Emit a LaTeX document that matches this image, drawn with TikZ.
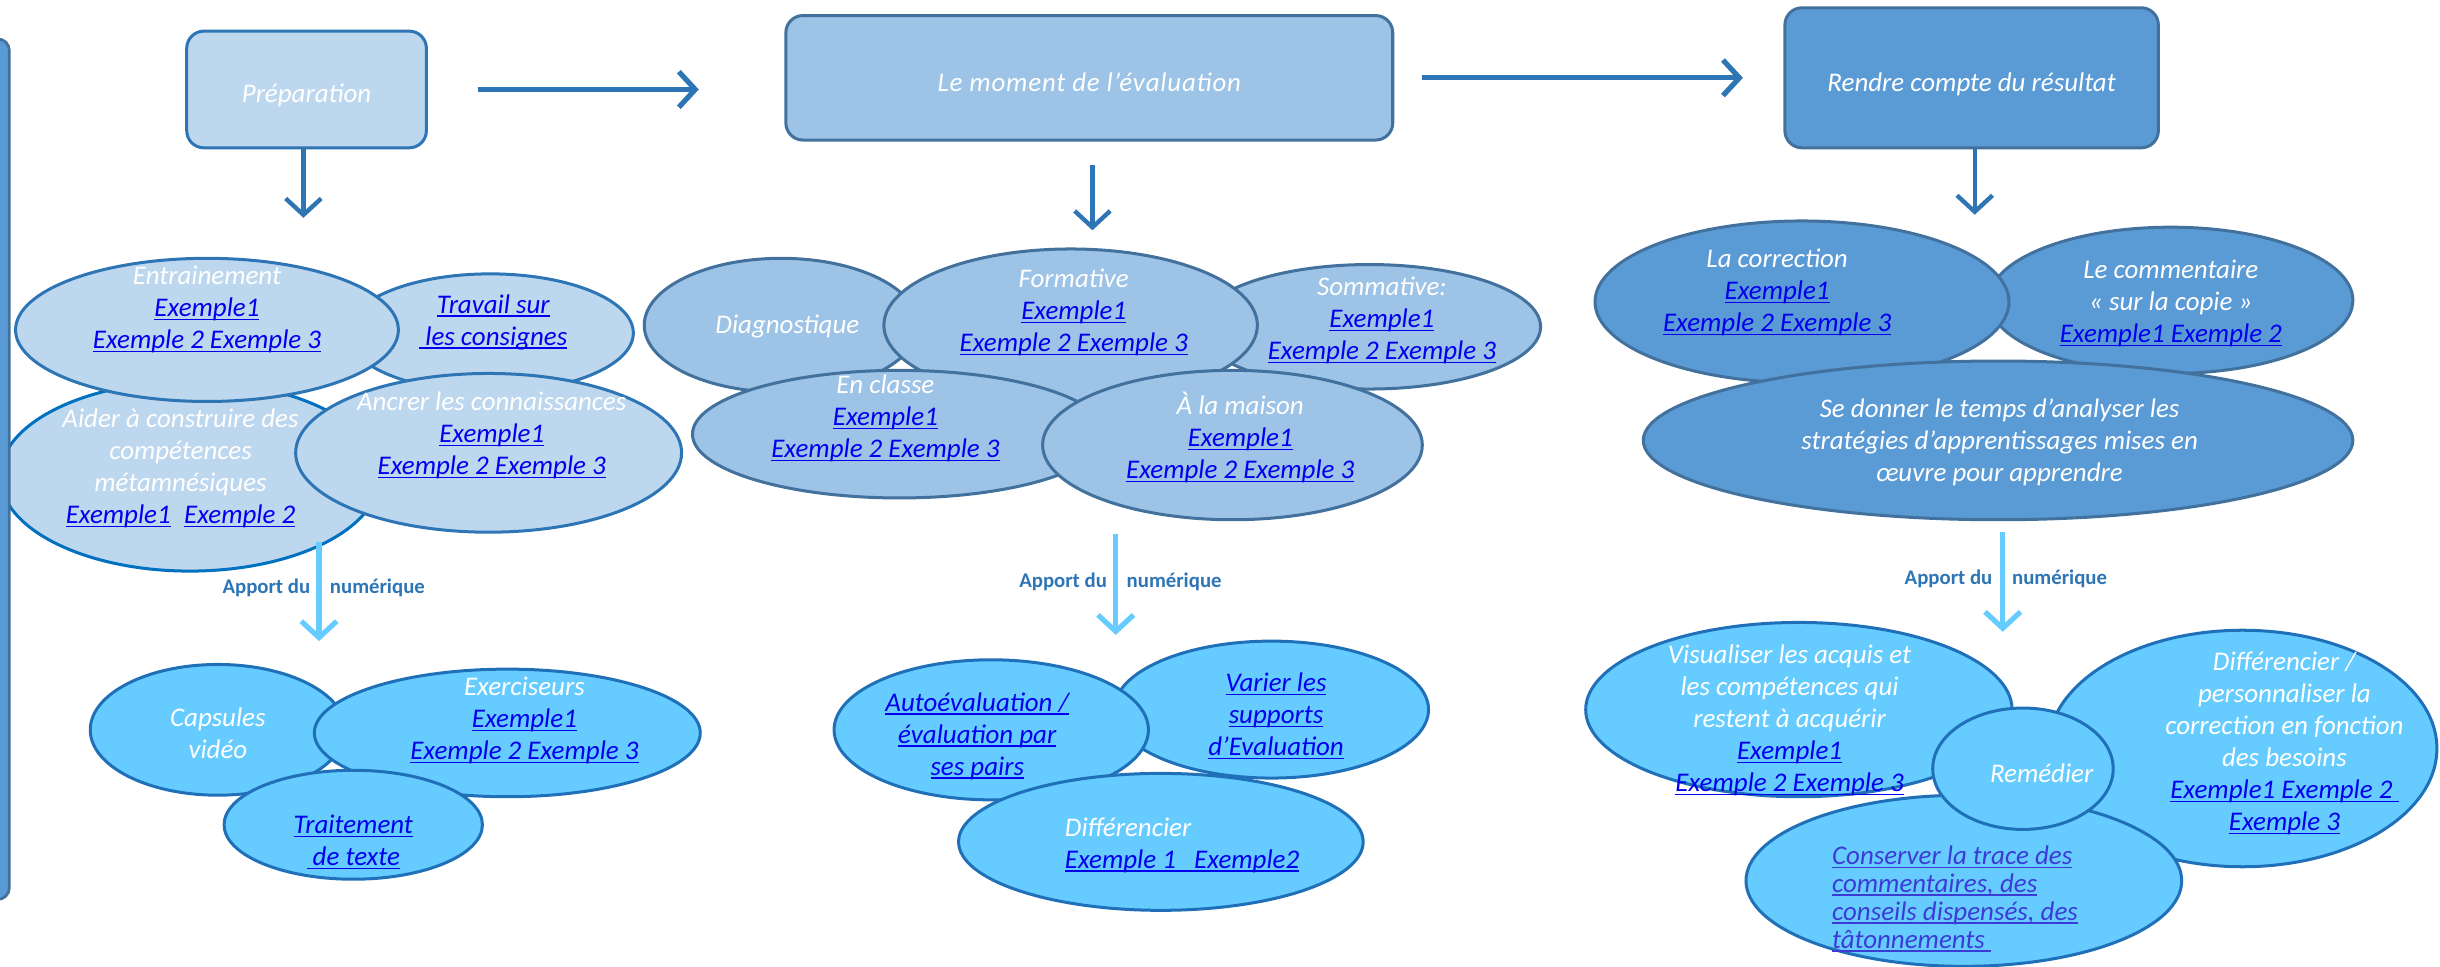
\documentclass[tikz,border=0pt]{standalone}
\usepackage{fontspec}
\setmainfont{Carlito}
\usetikzlibrary{shapes.geometric,arrows.meta}

\definecolor{accent}{HTML}{2E75B6}
\definecolor{pale}{HTML}{BDD7EE}
\definecolor{mid}{HTML}{9DC3E6}
\definecolor{deep}{HTML}{5B9BD5}
\definecolor{edge}{HTML}{41719C}
\definecolor{cyanfill}{HTML}{66CCFF}
\definecolor{cyanedge}{HTML}{1F70B8}
\definecolor{lien}{HTML}{0000EE}
\definecolor{lienb}{HTML}{3B3BD6}

% underline close to the baseline
\newcommand{\soul}[1]{\setbox0\hbox{#1}\rlap{\rule[-1.3pt]{\wd0}{0.5pt}}\box0}
\newcommand{\ex}[1]{\textcolor{lien}{\soul{#1}}}

\tikzset{
  ell/.style 2 args={ellipse, inner sep=0pt, line width=1.1pt,
    minimum width=#1*0.02cm, minimum height=#2*0.02cm},
  txt/.style={inner sep=0pt, align=center, text=white,
    font=\fontsize{9.85}{11.7}\selectfont\itshape},
  rbox/.style={rectangle, rounded corners=0.22cm, line width=1.1pt, txt,
    text height=0.34cm, text depth=0pt},
  bigarr/.style={draw=accent, line width=1.9pt,
    -{Straight Barb[length=6pt,width=13pt]}},
  numarr/.style={draw=cyanfill, line width=1.9pt,
    -{Straight Barb[length=6pt,width=13pt]}},
  apport/.style={inner sep=0pt, text=accent,
    font=\fontsize{7.6}{9}\selectfont\bfseries}
}

\begin{document}
\begin{tikzpicture}[x=0.02cm, y=-0.02cm]
\useasboundingbox (0,0) rectangle (1568,621);

% top row
\node[rbox, fill=pale, draw=accent, minimum width=154*0.02cm, minimum height=75*0.02cm] (prep) at (197,57.5) {Préparation};
\node[rbox, fill=mid, draw=edge, minimum width=390*0.02cm, minimum height=80*0.02cm] (moment) at (700,50) {\addfontfeature{LetterSpace=3}Le moment de l’évaluation};
\node[rbox, fill=deep, draw=edge, minimum width=240*0.02cm, minimum height=90*0.02cm] (rendre) at (1267,50) {Rendre compte du résultat};

\draw[bigarr, shorten <=0.64cm, shorten >=1.1cm] (prep.east) -- (prep.east -| moment.west);
\draw[bigarr, shorten <=0.36cm, shorten >=0.52cm] (moment.east) -- (moment.east -| rendre.west);

\coordinate (prepdown) at (195,140);
\coordinate (momentdown) at (702,148);
\coordinate (rendredown) at (1269,138);
\draw[bigarr, line width=1.6pt] (prep.south -| prepdown) -- (prepdown);
\draw[bigarr, line width=1.6pt, shorten <=0.3cm] (moment.south -| momentdown) -- (momentdown);
\draw[bigarr, line width=1.6pt] (rendre.south -| rendredown) -- (rendredown);

% preparation
\node[ell={184}{76}, fill=pale, draw=accent] (trav) at (315,214) {};
\node[ell={244}{122}, fill=pale, draw={rgb,255:red,0;green,112;blue,192}] (aider) at (122,306) {};
\node[ell={246}{92}, fill=pale, draw=accent] (entr) at (133,212) {};
\node[ell={248}{102}, fill=pale, draw=accent] (ancr) at (314,291) {};
\node[draw=edge, fill=deep, rounded corners=0.15cm, line width=1pt, minimum width=0.6cm, minimum height=553*0.02cm] (bar) at (-9,301.5) {};

\node[txt] (tentr) at (133,199) {Entrainement\\\ex{Exemple1}\\\ex{Exemple 2 Exemple 3}};
\node[txt] (ttrav) at (317,207) {\ex{Travail sur}\\\ex{~les consignes}};
\node[txt] (taider) at (116,301) {Aider à construire des\\compétences\\métamnésiques\\\ex{Exemple1}\enspace\ex{Exemple 2}};
\node[txt] (tancr) at (316,280) {Ancrer les connaissances\\\ex{Exemple1}\\\ex{Exemple 2 Exemple 3}};

\coordinate (num1a) at (205,348);
\coordinate (num1b) at (205,412);
\draw[numarr] (num1a) -- (num1b);
\node[apport] (app1) at (208,378) {Apport du\hspace{0.95em}numérique};

\node[ell={164}{84}, fill=cyanfill, draw=cyanedge] (caps) at (140,469) {};
\node[ell={248}{82}, fill=cyanfill, draw=cyanedge] (exer) at (326,471) {};
\node[ell={166}{70}, fill=cyanfill, draw=cyanedge] (trait) at (227,530) {};
\node[txt] (tcaps) at (140,471) {Capsules\\vidéo};
\node[txt] (texer) at (337,463) {Exerciseurs\\\ex{Exemple1}\\\ex{Exemple 2 Exemple 3}};
\node[txt] (ttrait) at (227,541) {\ex{Traitement}\\\ex{~de texte}};

% evaluation
\node[ell={176}{86}, fill=mid, draw=edge] (diag) at (502,209) {};
\node[ell={220}{80}, fill=mid, draw=edge] (somm) at (880,210) {};
\node[ell={240}{98}, fill=mid, draw=edge] (form) at (688,209) {};
\node[ell={266}{82}, fill=mid, draw=edge] (encl) at (578,279) {};
\node[ell={244}{96}, fill=mid, draw=edge] (mais) at (792,286) {};

\node[txt] (tdiag) at (506,210) {Diagnostique};
\node[txt] (tform) at (690,201) {Formative\\\ex{Exemple1}\\\ex{Exemple 2 Exemple 3}};
\node[txt] (tsomm) at (888,206) {Sommative:\\\ex{Exemple1}\\\ex{Exemple 2 Exemple 3}};
\node[txt] (tencl) at (569,269) {En classe\\\ex{Exemple1}\\\ex{Exemple 2 Exemple 3}};
\node[txt] (tmais) at (797,281) {À la maison\\\ex{Exemple1}\\\ex{Exemple 2 Exemple 3}};

\coordinate (num2a) at (717,343);
\coordinate (num2b) at (717,408);
\draw[numarr] (num2a) -- (num2b);
\node[apport] (app2) at (720,374) {Apport du\hspace{0.95em}numérique};

\node[ell={202}{88}, fill=cyanfill, draw=cyanedge] (vari) at (817,456) {};
\node[ell={202}{90}, fill=cyanfill, draw=cyanedge] (auto) at (637,469) {};
\node[ell={260}{88}, fill=cyanfill, draw=cyanedge] (diff) at (746,541) {};
\node[txt] (tauto) at (628,473) {\ex{Autoévaluation /}\\\ex{évaluation par}\\\ex{ses pairs}};
\node[txt] (tvari) at (820,460) {\ex{Varier les}\\\ex{supports}\\\ex{d’Evaluation}};
\node[txt, align=left, anchor=west] (tdiff) at (684,543) {Différencier\\\ex{Exemple 1~~~Exemple2}};

% rendre compte
\node[ell={234}{94}, fill=deep, draw=edge] (comm) at (1395,193) {};
\node[ell={266}{104}, fill=deep, draw=edge] (corr) at (1158,194) {};
\node[ell={456}{102}, fill=deep, draw=edge] (donn) at (1284,283) {};
\node[txt] (tcorr) at (1142,188) {La correction\\\ex{Exemple1}\\\ex{Exemple 2 Exemple 3}};
\node[txt] (tcomm) at (1395,195) {Le commentaire\\«~sur la copie~»\\\ex{Exemple1 Exemple 2}};
\node[txt] (tdonn) at (1285,284) {Se donner le temps d’analyser les\\stratégies d’apprentissages mises en\\œuvre pour apprendre};

\coordinate (num3a) at (1287,342);
\coordinate (num3b) at (1287,406);
\draw[numarr] (num3a) -- (num3b);
\node[apport] (app3) at (1289,372) {Apport du\hspace{0.95em}numérique};

\node[ell={274}{112}, fill=cyanfill, draw=cyanedge] (visu) at (1156,456) {};
\node[ell={250}{152}, fill=cyanfill, draw=cyanedge] (pers) at (1441,481) {};
\node[ell={280}{110}, fill=cyanfill, draw=cyanedge] (cons) at (1262,566) {};
\node[ell={116}{78}, fill=cyanfill, draw=cyanedge] (reme) at (1300,494) {};
\node[txt] (tvisu) at (1150,463) {Visualiser les acquis et\\les compétences qui\\restent à acquérir\\\ex{Exemple1}\\\ex{Exemple 2 Exemple 3}};
\node[txt] (tpers) at (1468,478) {Différencier /\\personnaliser la\\correction en fonction\\des besoins\\\ex{Exemple1 Exemple 2~}\\\ex{Exemple 3}};
\node[txt, align=left, anchor=west, text=lienb, font=\fontsize{9.85}{10.2}\selectfont\itshape] (tcons) at (1177,577.5) {\soul{Conserver la trace des}\\\soul{commentaires, des}\\\soul{conseils dispensés, des}\\\soul{tâtonnements~}};
\node[txt] (treme) at (1312,497) {Remédier};
\end{tikzpicture}
\end{document}
